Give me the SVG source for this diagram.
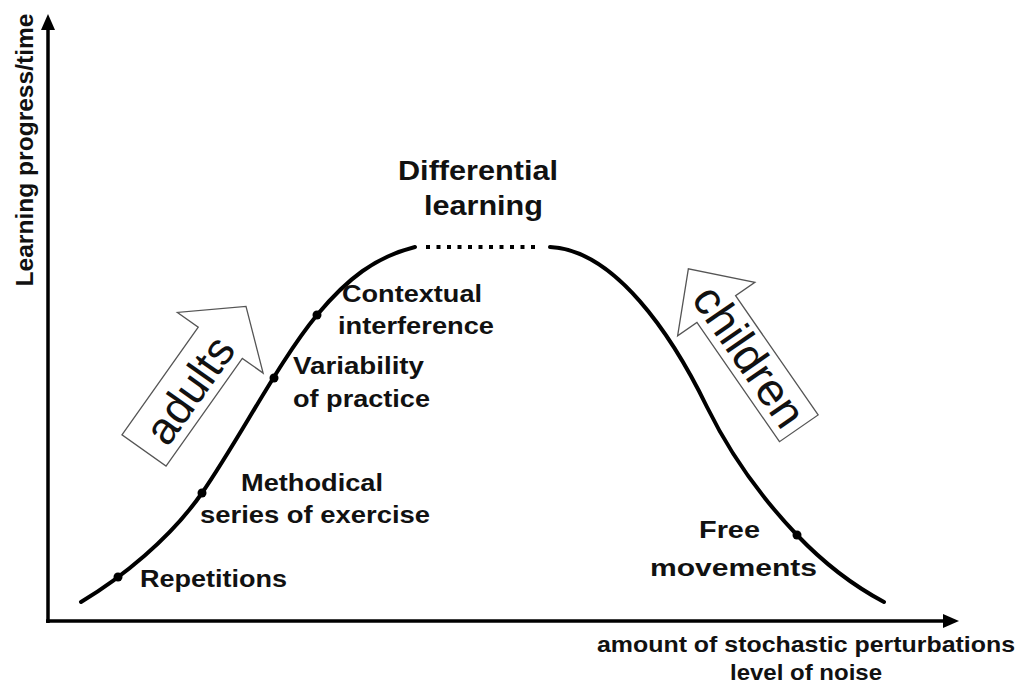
<svg xmlns="http://www.w3.org/2000/svg" width="1024" height="686" viewBox="0 0 1024 686">
<style>
.lbl{font-family:"Liberation Sans",Arial,sans-serif;font-weight:bold;font-size:23px;fill:#111}
.ttl{font-size:28px}
.ax{font-size:22px}
.ylab{font-size:24px}
.big{font-family:"Liberation Sans",Arial,sans-serif;font-size:46px;fill:#111;text-anchor:middle}
.axis{stroke:#000;stroke-width:3.5;fill:none}
.curve{stroke:#000;stroke-width:4;fill:none;stroke-linecap:round}
.dotted{stroke:#000;stroke-width:4;fill:none;stroke-dasharray:4 6.5}
.pt{fill:#000}
.harrow{fill:#fff;stroke:#555;stroke-width:1.3;stroke-linejoin:miter}
</style>
<defs>
<marker id="ah" viewBox="0 0 16 14" markerWidth="16" markerHeight="14" refX="3" refY="7" orient="auto" markerUnits="userSpaceOnUse">
<path d="M0,0 L16,7 L0,14 z" fill="#000"/>
</marker>
</defs>
<rect width="1024" height="686" fill="#fff"/>

<g id="connectors">
<path class="axis" d="M48,623 L48,27" marker-end="url(#ah)"/>
<path class="axis" d="M46,621 L946,621" marker-end="url(#ah)"/>
<path id="curve-left" class="curve" d="M81,602 C121,578 170,539 202,493 C240,438 279,361 317,315 C347,279 375,257 415,247"/>
<path id="curve-top" class="dotted" d="M426,247 L536,247"/>
<path id="curve-right" class="curve" d="M550,247 C615,250 672,335 707,407 C735,464 767,503.5 797,535 C827,566.5 854,586 884,602"/>
</g>

<g id="y-label"><text class="lbl ylab" transform="translate(33,150) rotate(-90)" text-anchor="middle" textLength="273" lengthAdjust="spacingAndGlyphs">Learning progress/time</text></g>
<g id="x-label">
<text class="lbl ax" x="597" y="652" textLength="418" lengthAdjust="spacingAndGlyphs">amount of stochastic perturbations</text>
<text class="lbl ax" x="806" y="680" text-anchor="middle" textLength="152" lengthAdjust="spacingAndGlyphs">level of noise</text>
</g>

<g id="differential-learning">
<text class="lbl ttl" x="398" y="180" textLength="160" lengthAdjust="spacingAndGlyphs">Differential</text>
<text class="lbl ttl" x="424" y="215" textLength="119" lengthAdjust="spacingAndGlyphs">learning</text>
</g>

<g id="repetitions">
<circle class="pt" cx="118" cy="577" r="4.5"/>
<text class="lbl" x="140" y="587" textLength="147" lengthAdjust="spacingAndGlyphs">Repetitions</text>
</g>
<g id="methodical">
<circle class="pt" cx="202" cy="493" r="4.5"/>
<text class="lbl" x="241" y="491" textLength="142" lengthAdjust="spacingAndGlyphs">Methodical</text>
<text class="lbl" x="200" y="523" textLength="230" lengthAdjust="spacingAndGlyphs">series of exercise</text>
</g>
<g id="variability">
<circle class="pt" cx="274" cy="378" r="4.5"/>
<text class="lbl" x="293" y="374" textLength="131" lengthAdjust="spacingAndGlyphs">Variability</text>
<text class="lbl" x="293" y="407" textLength="137" lengthAdjust="spacingAndGlyphs">of practice</text>
</g>
<g id="contextual">
<circle class="pt" cx="317" cy="315" r="4.5"/>
<text class="lbl" x="342" y="302" textLength="140" lengthAdjust="spacingAndGlyphs">Contextual</text>
<text class="lbl" x="338" y="334" textLength="156" lengthAdjust="spacingAndGlyphs">interference</text>
</g>
<g id="free-movements">
<circle class="pt" cx="797" cy="535" r="4.5"/>
<text class="lbl" x="699" y="538" textLength="61" lengthAdjust="spacingAndGlyphs">Free</text>
<text class="lbl" x="650" y="576" textLength="167" lengthAdjust="spacingAndGlyphs">movements</text>
</g>

<g id="adults">
<polygon class="harrow" transform="translate(144,450.5) rotate(-54.7)" points="0,-27 132,-27 132,-52.5 176.5,0 132,52.5 132,27 0,27"/>
<text class="big" style="font-size:45px" transform="translate(192.8,392.2) rotate(-54.7)" y="11.6">adults</text>
</g>
<g id="children">
<polygon class="harrow" transform="translate(798.8,428.3) rotate(-124.7)" points="0,-23.5 145,-23.5 145,-47 194,0 145,47 145,23.5 0,23.5"/>
<text class="big" transform="translate(746.2,358.4) rotate(55.3)" y="12">children</text>
</g>
</svg>
